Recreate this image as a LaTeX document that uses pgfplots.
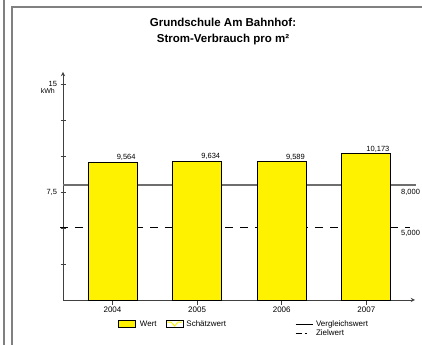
\documentclass[border=0pt]{standalone}
\usepackage{fontspec}
\setmainfont{Liberation Sans}
\usepackage{pgfplots}
\pgfplotsset{compat=1.18}

\definecolor{axisgray}{RGB}{64,64,64}
\definecolor{refgray}{RGB}{110,110,110}
\definecolor{framegray}{RGB}{128,128,128}

\begin{document}
\begin{tikzpicture}
\path[use as bounding box, clip] (0,0) rectangle (422bp,345bp);
% page frame
\draw[framegray, line width=1.5bp] (4bp,-1bp) -- (4bp,346bp);
\draw[framegray, line width=1.5bp] (12bp,-1bp) -- (12bp,338bp) -- (423bp,338bp);

\begin{axis}[
	at={(63bp,45bp)}, anchor=south west,
	scale only axis, width=352bp, height=228bp,
	xmin=-0.585, xmax=3.575,
	ymin=0, ymax=15.83,
	clip=false,
	axis x line=bottom, axis y line=left,
	axis line style={axisgray, line width=0.9bp},
	tick align=center,
	major tick length=5bp,
	/pgf/number format/assume math mode=true,
	xtick={0,1,2,3},
	xticklabels={2004,2005,2006,2007},
	xtick style={axisgray, line width=0.8bp, yshift=-2.5bp},
	xticklabel style={font=\fontsize{8bp}{9bp}\selectfont, yshift=-1bp},
	ytick={2.5,5,7.5,10,12.5,15},
	yticklabels={,,{7,5},,,15},
	ytick style={axisgray, line width=0.8bp},
	yticklabel style={font=\fontsize{7.5bp}{9bp}\selectfont},
	legend columns=3,
	legend cell align=left,
	legend style={
		draw=none, fill=none,
		at={(0.156,-0.085)}, anchor=north west,
		inner sep=0pt,
		font=\fontsize{8bp}{9bp}\selectfont,
		nodes={inner sep=1bp, text height=5.5bp, text depth=1.5bp},
		/tikz/column 1/.style={column sep=3bp},
		/tikz/column 2/.style={column sep=8bp},
		/tikz/column 3/.style={column sep=2bp},
		/tikz/column 4/.style={column sep=68bp},
		/tikz/column 5/.style={column sep=2bp},
	},
]
% Vergleichswert and Zielwert
\addplot[refgray, line width=1.5bp, forget plot] coordinates {(-0.585,8) (3.59,8)};
\addplot[black, line width=1bp, dash pattern=on 8bp off 7bp, forget plot] coordinates {(-0.62,5) (3.52,5)};

% consumption per year
\addplot[ybar, bar width=49bp, fill=yellow, draw=black, line width=0.9bp, forget plot,
	nodes near coords={\pgfmathprintnumber[fixed, fixed zerofill, precision=3, use comma]{\pgfplotspointmeta}},
	every node near coord/.append style={anchor=south east, xshift=24.5bp, inner sep=1bp,
		font=\fontsize{7.5bp}{9bp}\selectfont},
] coordinates {(0,9.564) (1,9.634) (2,9.589) (3,10.173)};

\addlegendimage{legend image code/.code={\draw[black, fill=yellow, line width=0.8bp] (0bp,-3.5bp) rectangle (17bp,3.5bp);}}
\addlegendentry{Wert}
\addlegendimage{legend image code/.code={\draw[black, fill=white, line width=0.8bp] (0bp,-3.5bp) rectangle (17bp,3.5bp);
	\draw[yellow, line width=0.9bp] (1bp,2bp) -- (5bp,2bp) -- (8.5bp,-2bp) -- (12bp,2bp) -- (16bp,2bp);}}
\addlegendentry{Schätzwert}
\addlegendimage{legend image code/.code={\draw[black, line width=1bp] (0bp,0bp) -- (17bp,0bp);}}
\addlegendentry{Vergleichswert}
\addlegendimage{empty legend}
\addlegendentry{}
\addlegendimage{empty legend}
\addlegendentry{}
\addlegendimage{legend image code/.code={\draw[black, line width=1bp] (0bp,0bp) -- (6bp,0bp) (9bp,0bp) -- (11bp,0bp);}}
\addlegendentry{Zielwert}

% labels of the reference lines
\node[anchor=north west, inner sep=0bp, font=\fontsize{7.5bp}{9bp}\selectfont] at (axis cs:3.41,8) [yshift=-4bp] {8,000};
\node[anchor=north west, inner sep=0bp, font=\fontsize{7.5bp}{9bp}\selectfont] at (axis cs:3.41,5) [yshift=-2bp] {5,000};
% unit
\node[anchor=north east, inner sep=0bp, font=\fontsize{7bp}{8bp}\selectfont] at (axis cs:-0.585,15) [xshift=-8bp, yshift=-4.5bp] {kWh};
% title
\node[anchor=north, align=center, inner sep=0bp, font=\bfseries\fontsize{11.5bp}{16bp}\selectfont]
	at (axis description cs:0.4545,1) [yshift=54bp] {Grundschule Am Bahnhof:\\Strom-Verbrauch pro m²};
\end{axis}
\end{tikzpicture}
\end{document}
